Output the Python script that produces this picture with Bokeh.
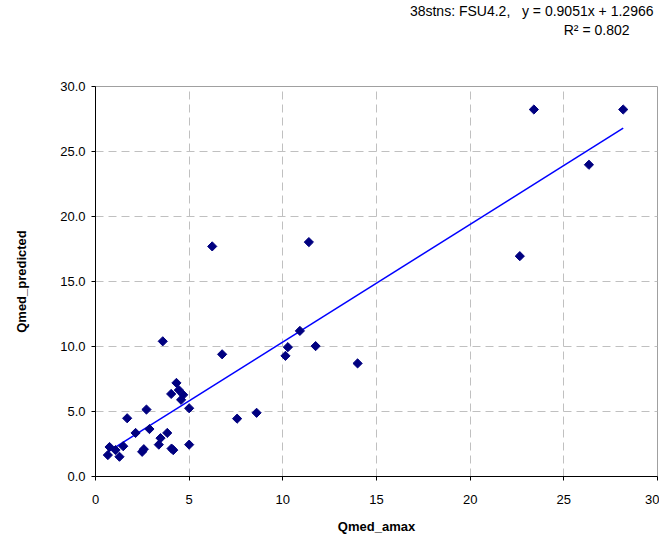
import numpy as np
from bokeh.plotting import figure
from bokeh.models import Range1d, Title, FixedTicker, NumeralTickFormatter
from bokeh.embed import file_html
from bokeh.resources import INLINE

# Data
qmed_amax = [0.66, 0.75, 1.07, 1.28, 1.48, 1.69, 2.14, 2.49, 2.58, 2.72,
             2.88, 3.38, 3.47, 3.59, 3.83, 4.06, 4.15, 4.04, 4.32, 4.45,
             4.68, 4.57, 5.00, 5.00, 6.76, 7.56, 8.60, 10.14, 10.27, 6.23,
             11.39, 10.91, 11.75, 13.99, 22.65, 23.40, 26.34, 28.17]
qmed_predicted = [1.65, 2.27, 2.03, 1.52, 2.33, 4.48, 3.35, 1.90, 2.10, 5.15,
                  3.65, 2.45, 2.95, 10.40, 3.35, 2.15, 2.03, 6.35, 7.20, 6.65,
                  6.28, 5.90, 5.25, 2.45, 9.40, 4.45, 4.90, 9.28, 9.95, 17.70,
                  18.03, 11.20, 10.03, 8.70, 16.95, 28.23, 23.98, 28.23]
slope = 0.9051
intercept = 1.2966
r_squared = 0.802
x_ticks = [0, 5, 10, 15, 20, 25, 30]
y_ticks = [0, 5, 10, 15, 20, 25, 30]

FONT = "Liberation Sans"

p = figure(width=659, height=536, output_backend="svg", toolbar_location=None,
           x_range=Range1d(0, 30), y_range=Range1d(0, 30),
           min_border_left=95, min_border_right=2, min_border_top=83,
           min_border_bottom=54)

p.background_fill_color = "white"
p.border_fill_color = "white"
p.outline_line_color = "#a0a0a0"
p.outline_line_width = 1

for grid in (p.xgrid, p.ygrid):
    grid.grid_line_color = "#c0c0c0"
    grid.grid_line_dash = "8 5"
    grid.grid_line_width = 1

p.xaxis.ticker = FixedTicker(ticks=x_ticks)
p.yaxis.ticker = FixedTicker(ticks=y_ticks)
p.yaxis.formatter = NumeralTickFormatter(format="0.0")
p.xaxis.formatter = NumeralTickFormatter(format="0")

for ax in (p.xaxis, p.yaxis):
    ax.axis_line_color = "black"
    ax.axis_line_width = 1
    ax.major_tick_line_color = "black"
    ax.major_tick_out = 4
    ax.major_tick_in = 0
    ax.minor_tick_line_color = None
    ax.major_label_text_font = FONT
    ax.major_label_text_font_size = "13px"
    ax.major_label_text_color = "black"
    ax.axis_label_text_font = FONT
    ax.axis_label_text_font_size = "13px"
    ax.axis_label_text_font_style = "bold"
    ax.axis_label_text_color = "black"

p.xaxis.axis_label = "Qmed_amax"
p.yaxis.axis_label = "Qmed_predicted"
p.yaxis.major_label_standoff = 6
p.xaxis.major_label_standoff = 14
p.xaxis.axis_label_standoff = 12
p.yaxis.axis_label_standoff = 28

# Trend line
xs = np.array([min(qmed_amax), max(qmed_amax)])
p.line(xs, slope * xs + intercept, line_color="#0000FF", line_width=1.5)

# Points (diamonds)
p.scatter(qmed_amax, qmed_predicted, marker="square", size=6.5, angle=np.pi / 4,
          fill_color="#000080", line_color="#000080")

# Equation annotation (two lines above the plot area); first a blank spacer
title_style = dict(text_font=FONT, text_font_size="14px",
                   text_font_style="normal", text_color="black")
p.add_layout(Title(text="\u00a0", align="right", standoff=31, **title_style), "above")
p.add_layout(Title(text=f"R² = {r_squared:.3f}", align="right", offset=28,
                   standoff=0, **title_style), "above")
p.add_layout(Title(text=f"38stns: FSU4.2,\u00a0\u00a0\u00a0y = {slope:.4f}x + {intercept:.4f}",
                   align="right", offset=4, standoff=1, **title_style), "above")

open("out.html", "w").write(file_html(p, INLINE))
